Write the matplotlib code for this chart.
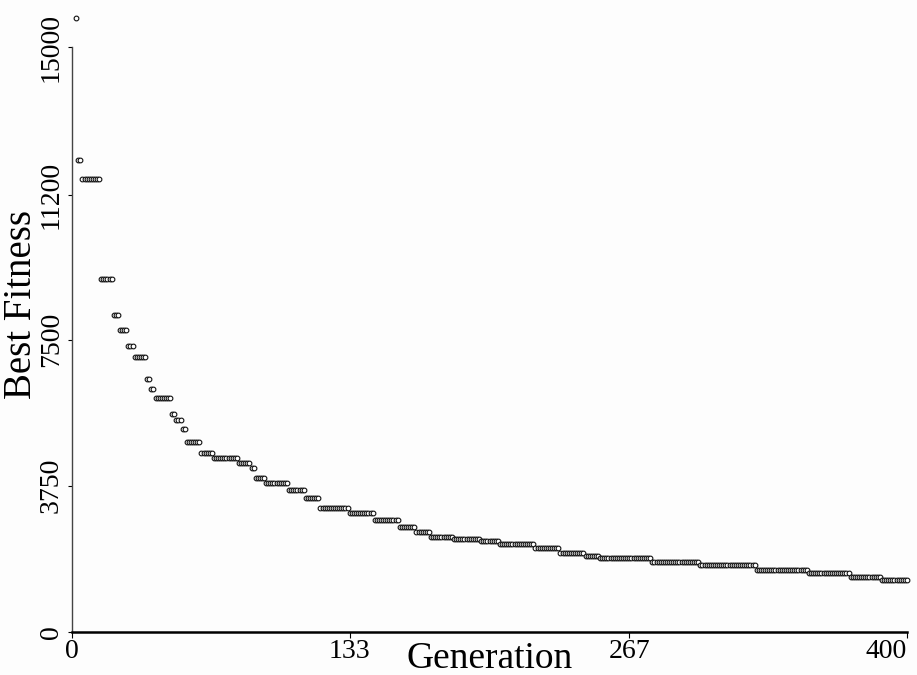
import numpy as np
import matplotlib
matplotlib.use("Agg")
import matplotlib.pyplot as plt

# step segments of the best fitness curve (first gen, last gen, value)
seg_start = [2, 3, 5, 14, 20, 23, 27, 30, 36, 38, 40, 48, 50, 53, 55, 62, 68, 80,
             86, 88, 93, 104, 112, 119, 133, 145, 157, 165, 172, 183, 196, 205,
             222, 234, 246, 253, 278, 301, 328, 353, 373, 388]
seg_end = [2, 4, 13, 19, 22, 26, 29, 35, 37, 39, 47, 49, 52, 54, 61, 67, 79, 85,
           87, 92, 103, 111, 118, 132, 144, 156, 164, 171, 182, 195, 204, 221,
           233, 245, 252, 277, 300, 327, 352, 372, 387, 400]
seg_value = [15740, 12100, 11615, 9050, 8140, 7740, 7330, 7050, 6490, 6230, 6000,
             5590, 5440, 5200, 4870, 4590, 4460, 4330, 4200, 3950, 3820, 3640,
             3440, 3180, 3050, 2860, 2690, 2560, 2440, 2380, 2340, 2260, 2150,
             2030, 1960, 1900, 1800, 1720, 1590, 1510, 1410, 1330]

x_ticks = [0, 133, 267, 400]
y_ticks = [0, 3750, 7500, 11200, 15000]

gens = np.concatenate([np.arange(a, b + 1) for a, b in zip(seg_start, seg_end)])
fitness = np.concatenate([np.full(b - a + 1, v) for a, b, v in zip(seg_start, seg_end, seg_value)])

plt.rcParams['font.family'] = ['Liberation Serif', 'DejaVu Serif']

fig = plt.figure(figsize=(9.17, 6.75), dpi=100, facecolor='#fdfdfd')
ax = fig.add_axes([72 / 917, 43 / 675, 835 / 917, 585 / 675])
ax.set_facecolor('#fdfdfd')

ax.plot(gens, fitness, linestyle='none', marker='o', markersize=3.4,
        markerfacecolor='white', markeredgecolor='#111111', markeredgewidth=0.8,
        clip_on=False)

ax.set_xlim(0, 400)
ax.set_ylim(0, 15000)
ax.set_xticks(x_ticks)
ax.set_xticklabels([str(t) for t in x_ticks])
ax.set_yticks(y_ticks)
ax.set_yticklabels([str(t) for t in y_ticks], rotation=90, va='center')
ax.get_xticklabels()[-1].set_ha('right')

for s in ['top', 'right']:
    ax.spines[s].set_visible(False)
ax.spines['bottom'].set_linewidth(1.8)
ax.spines['left'].set_linewidth(1.0)
ax.spines['left'].set_color('#444444')

ax.tick_params(axis='x', direction='out', length=4, width=0.8, labelsize=20, pad=1)
ax.tick_params(axis='y', direction='out', length=3, width=0.8, labelsize=20, pad=3)

ax.set_xlabel('Generation', fontsize=27)
ax.xaxis.set_label_coords(0.50, -0.045)
ax.xaxis.label.set_va('center')
ax.set_ylabel('Best Fitness', fontsize=28)
ax.yaxis.set_label_coords(-0.060, 0.56)
ax.yaxis.label.set_va('center')

fig.savefig('out.png', dpi=100, facecolor=fig.get_facecolor())
